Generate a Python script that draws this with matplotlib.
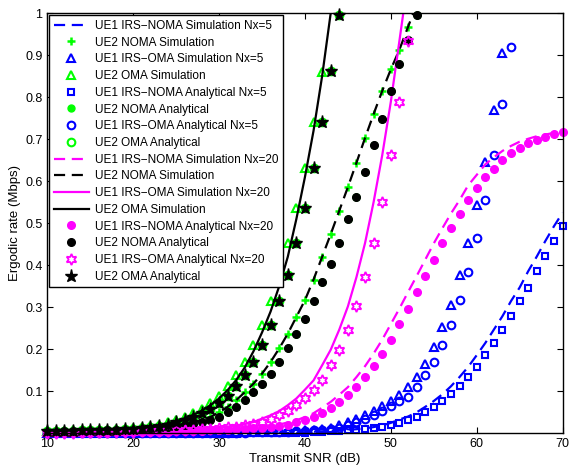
import numpy as np
import matplotlib.pyplot as plt

plt.rcParams['font.family'] = ['Liberation Sans', 'DejaVu Sans']

#%% data (SNR in dB, rate in Mbps), every series starts at 10 dB
snr = np.arange(10, 71)

# UE1, Nx=5
ue1_noma_sim_5 = [0.001]*30 + [0.003, 0.004, 0.005, 0.006, 0.007, 0.008, 0.010, 0.012, 0.015,
                               0.019, 0.025, 0.033, 0.040, 0.050, 0.063, 0.077, 0.093, 0.112, 0.134,
                               0.158, 0.186, 0.215, 0.247, 0.279, 0.315, 0.347, 0.386, 0.421, 0.458,
                               0.493, 0.525]
ue1_noma_ana_5 = [0.001]*30 + [0.002, 0.003, 0.004, 0.005, 0.006, 0.007, 0.008, 0.010, 0.012,
                               0.015, 0.019, 0.025, 0.033, 0.040, 0.050, 0.063, 0.077, 0.093, 0.112,
                               0.134, 0.158, 0.186, 0.215, 0.247, 0.279, 0.315, 0.347, 0.386, 0.421,
                               0.458, 0.493]
ue1_oma_sim_5 = [0.001]*20 + [0.002, 0.002, 0.002, 0.003, 0.003, 0.003, 0.004, 0.004, 0.005, 0.006,
                              0.008, 0.009, 0.011, 0.013, 0.020, 0.026, 0.034, 0.043, 0.054, 0.065,
                              0.076, 0.091, 0.110, 0.134, 0.166, 0.205, 0.253, 0.305, 0.376, 0.452,
                              0.543, 0.646, 0.769, 0.905]
ue1_oma_ana_5 = [0.001]*20 + [0.001, 0.002, 0.002, 0.002, 0.003, 0.003, 0.003, 0.004, 0.004, 0.005,
                              0.006, 0.008, 0.009, 0.011, 0.013, 0.020, 0.026, 0.034, 0.043, 0.054,
                              0.065, 0.076, 0.086, 0.110, 0.138, 0.170, 0.210, 0.257, 0.317, 0.384,
                              0.464, 0.555, 0.662, 0.783, 0.920]

# UE1, Nx=20
ue1_noma_ana_20 = [0.001, 0.001, 0.001, 0.002, 0.002, 0.002, 0.002, 0.002, 0.003, 0.003,
                   0.003, 0.003, 0.004, 0.004, 0.004, 0.005, 0.005, 0.006, 0.006, 0.007,
                   0.008, 0.009, 0.010, 0.011, 0.012, 0.013, 0.015, 0.018, 0.021, 0.026,
                   0.031, 0.039, 0.048, 0.061, 0.075, 0.092, 0.110, 0.134, 0.160, 0.190,
                   0.223, 0.260, 0.297, 0.336, 0.374, 0.413, 0.452, 0.488, 0.523, 0.555,
                   0.583, 0.609, 0.630, 0.650, 0.666, 0.680, 0.690, 0.699, 0.705, 0.712, 0.717]
ue1_noma_sim_20 = [0.001, 0.001, 0.002, 0.002, 0.002, 0.002, 0.002, 0.003, 0.003, 0.003,
                   0.003, 0.004, 0.004, 0.004, 0.005, 0.005, 0.006, 0.006, 0.007, 0.008,
                   0.009, 0.010, 0.011, 0.012, 0.013, 0.015, 0.018, 0.021, 0.026, 0.031,
                   0.039, 0.048, 0.061, 0.075, 0.092, 0.110, 0.134, 0.160, 0.190, 0.223,
                   0.260, 0.297, 0.336, 0.374, 0.413, 0.452, 0.488, 0.523, 0.555, 0.590,
                   0.615, 0.640, 0.657, 0.672, 0.684, 0.694, 0.701, 0.707, 0.711, 0.715, 0.718]
ue1_oma_ana_20 = [0.002, 0.002, 0.002, 0.002, 0.003, 0.003, 0.003, 0.003, 0.004, 0.004,
                  0.004, 0.005, 0.005, 0.006, 0.006, 0.007, 0.008, 0.009, 0.010, 0.011,
                  0.012, 0.014, 0.016, 0.019, 0.022, 0.027, 0.035, 0.043, 0.053, 0.067,
                  0.083, 0.104, 0.126, 0.162, 0.199, 0.247, 0.302, 0.372, 0.453, 0.551,
                  0.662, 0.789, 0.934]
ue1_oma_sim_20 = [0.002, 0.002, 0.002, 0.003, 0.003, 0.003, 0.003, 0.004, 0.004, 0.004,
                  0.005, 0.005, 0.006, 0.006, 0.007, 0.008, 0.009, 0.010, 0.011, 0.012,
                  0.014, 0.016, 0.019, 0.022, 0.027, 0.035, 0.043, 0.053, 0.067, 0.083,
                  0.104, 0.126, 0.162, 0.199, 0.247, 0.302, 0.372, 0.453, 0.551, 0.662,
                  0.789, 0.934, 1.080]

# UE2 (does not depend on Nx)
ue2_noma_sim = [0.004, 0.005, 0.005, 0.005, 0.006, 0.006, 0.007, 0.007, 0.008, 0.009,
                0.010, 0.011, 0.013, 0.015, 0.017, 0.020, 0.023, 0.027, 0.032, 0.039,
                0.050, 0.063, 0.079, 0.098, 0.118, 0.142, 0.170, 0.202, 0.237, 0.277,
                0.317, 0.366, 0.420, 0.474, 0.530, 0.586, 0.644, 0.703, 0.760, 0.815,
                0.866, 0.913, 0.967]
ue2_noma_line = ue2_noma_sim + [1.02]
ue2_noma_ana = [0.004, 0.004, 0.005, 0.005, 0.005, 0.006, 0.006, 0.007, 0.007, 0.008,
                0.009, 0.010, 0.011, 0.013, 0.015, 0.017, 0.020, 0.023, 0.027, 0.032,
                0.039, 0.050, 0.063, 0.079, 0.098, 0.118, 0.142, 0.170, 0.202, 0.237,
                0.273, 0.316, 0.359, 0.404, 0.453, 0.509, 0.563, 0.622, 0.686, 0.749,
                0.815, 0.879, 0.937, 0.995]
ue2_oma_sim = [0.006, 0.006, 0.006, 0.007, 0.007, 0.008, 0.008, 0.009, 0.010, 0.011,
               0.013, 0.015, 0.018, 0.021, 0.026, 0.032, 0.039, 0.048, 0.059, 0.073,
               0.090, 0.112, 0.138, 0.170, 0.210, 0.257, 0.314, 0.378, 0.453, 0.537,
               0.632, 0.740, 0.860]
ue2_oma_line = [0.006, 0.006, 0.006, 0.007, 0.007, 0.008, 0.008, 0.009, 0.010, 0.011,
                0.012, 0.014, 0.017, 0.020, 0.024, 0.029, 0.036, 0.044, 0.054, 0.067,
                0.083, 0.103, 0.127, 0.157, 0.195, 0.240, 0.290, 0.350, 0.420, 0.510,
                0.610, 0.720, 0.850, 1.000]
ue2_oma_ana = [0.005, 0.006, 0.006, 0.006, 0.007, 0.007, 0.008, 0.008, 0.009, 0.010,
               0.011, 0.013, 0.015, 0.018, 0.021, 0.026, 0.032, 0.039, 0.048, 0.059,
               0.073, 0.090, 0.112, 0.138, 0.170, 0.210, 0.257, 0.314, 0.378, 0.453,
               0.537, 0.632, 0.740, 0.862, 0.995]

#%% figure
fig = plt.figure(figsize=(5.7, 4.67), dpi=100)
ax = fig.add_axes([0.083, 0.072, 0.904, 0.900])

def x_of(v):
    return snr[:len(v)]

hexagram = (6, 1, 0)
mk = dict(linestyle='none', clip_on=False)

ax.plot(x_of(ue1_noma_sim_5), ue1_noma_sim_5, '--', color='b', lw=1.6, dashes=(5, 3),
        label='UE1 IRS\u2212NOMA Simulation Nx=5')
ax.plot(x_of(ue2_noma_sim), ue2_noma_sim, marker='+', color='#00ff00', ms=6, mew=1.8, **mk,
        label='UE2 NOMA Simulation')
ax.plot(x_of(ue1_oma_sim_5), ue1_oma_sim_5, marker='^', color='b', mfc='none', ms=6, mew=1.5, **mk,
        label='UE1 IRS\u2212OMA Simulation Nx=5')
ax.plot(x_of(ue2_oma_sim), ue2_oma_sim, marker='^', color='#00ff00', mfc='none', ms=6, mew=1.5, **mk,
        label='UE2 OMA Simulation')
ax.plot(x_of(ue1_noma_ana_5), ue1_noma_ana_5, marker='s', color='b', mfc='none', ms=4.5, mew=1.5, **mk,
        label='UE1 IRS\u2212NOMA Analytical Nx=5')
ax.plot(x_of(ue2_noma_ana), ue2_noma_ana, marker='o', color='#00ff00', ms=5, **mk,
        label='UE2 NOMA Analytical')
ax.plot(x_of(ue1_oma_ana_5), ue1_oma_ana_5, marker='o', color='b', mfc='none', ms=5.5, mew=1.5, **mk,
        label='UE1 IRS\u2212OMA Analytical Nx=5')
ax.plot(x_of(ue2_oma_ana), ue2_oma_ana, marker='o', color='#00ff00', mfc='none', ms=5.5, mew=1.5, **mk,
        label='UE2 OMA Analytical')
ax.plot(x_of(ue1_noma_sim_20), ue1_noma_sim_20, '--', color='#ff00ff', lw=1.6, dashes=(5, 3),
        label='UE1 IRS\u2212NOMA Simulation Nx=20')
ax.plot(x_of(ue2_noma_line), ue2_noma_line, '--', color='k', lw=1.6, dashes=(5, 3),
        label='UE2 NOMA Simulation')
ax.plot(x_of(ue1_oma_sim_20), ue1_oma_sim_20, '-', color='#ff00ff', lw=1.6,
        label='UE1 IRS\u2212OMA Simulation Nx=20')
ax.plot(x_of(ue2_oma_line), ue2_oma_line, '-', color='k', lw=1.6,
        label='UE2 OMA Simulation')
ax.plot(x_of(ue1_noma_ana_20), ue1_noma_ana_20, marker='o', color='#ff00ff', ms=5.5, **mk,
        label='UE1 IRS\u2212NOMA Analytical Nx=20')
ax.plot(x_of(ue2_noma_ana), ue2_noma_ana, marker='o', color='k', ms=5.5, **mk,
        label='UE2 NOMA Analytical')
ax.plot(x_of(ue1_oma_ana_20), ue1_oma_ana_20, marker=hexagram, color='#ff00ff', mfc='none', ms=8, mew=1.3, **mk,
        label='UE1 IRS\u2212OMA Analytical Nx=20')
ax.plot(x_of(ue2_oma_ana), ue2_oma_ana, marker='*', color='k', ms=9.5, **mk,
        label='UE2 OMA Analytical')

ax.set_xlim(10, 70)
ax.set_ylim(0, 1)
ax.set_xticks(np.arange(10, 71, 10))
ax.set_yticks(np.round(np.arange(0.1, 1.01, 0.1), 1))
ax.set_yticklabels(['0.1', '0.2', '0.3', '0.4', '0.5', '0.6', '0.7', '0.8', '0.9', '1'])
ax.tick_params(direction='in', top=True, right=True, labelsize=9, length=4, width=0.8)
for s in ax.spines.values():
    s.set_linewidth(1.0)
ax.set_xlabel('Transmit SNR (dB)', fontsize=9.5, labelpad=2)
ax.set_ylabel('Ergodic rate (Mbps)', fontsize=9.5, labelpad=3)

leg = ax.legend(loc='upper left', bbox_to_anchor=(0.003, 0.995), borderaxespad=0,
                fontsize=8.5, handlelength=3.0, labelspacing=0.40, fancybox=False,
                framealpha=1, edgecolor='k', borderpad=0.4, handletextpad=0.5)
leg.get_frame().set_linewidth(1.0)

fig.savefig('out.png', dpi=100)
